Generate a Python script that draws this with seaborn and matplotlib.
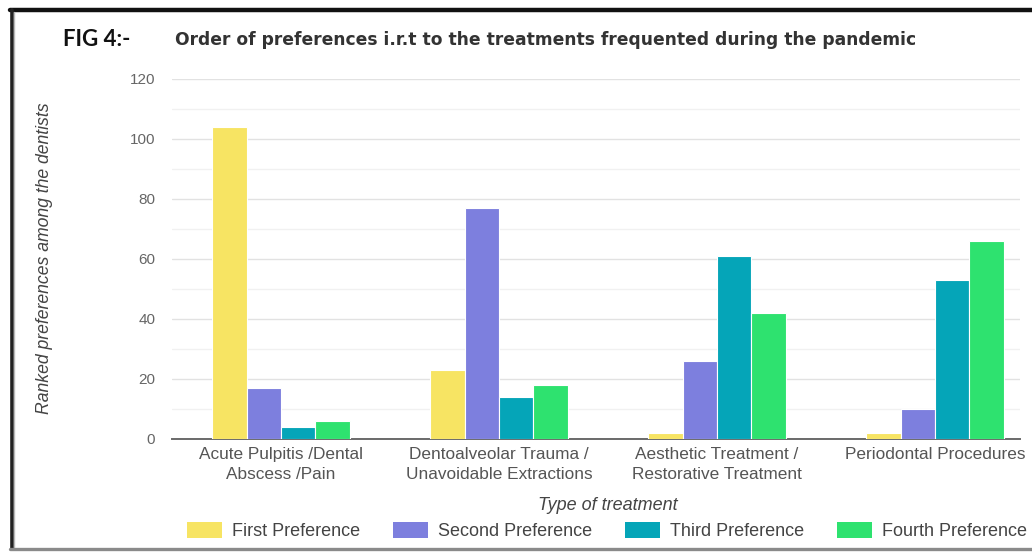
import matplotlib
matplotlib.use("Agg")
import matplotlib.pyplot as plt
import seaborn as sns
import pandas as pd
from matplotlib.lines import Line2D
from matplotlib.patches import Patch

# Treatment categories and ranked-preference counts
treatments = [
    "Acute Pulpitis /Dental\nAbscess /Pain",
    "Dentoalveolar Trauma /\nUnavoidable Extractions",
    "Aesthetic Treatment /\nRestorative Treatment",
    "Periodontal Procedures",
]
preferences = ["First Preference", "Second Preference", "Third Preference", "Fourth Preference"]
first_pref = [104, 23, 2, 2]
second_pref = [17, 77, 26, 10]
third_pref = [4, 14, 61, 53]
fourth_pref = [6, 18, 42, 66]
y_ticks = [0, 20, 40, 60, 80, 100, 120]

colors = ["#F7E463", "#7D7FDE", "#05A5B8", "#2EE26F"]

rows = []
for pref, vals in zip(preferences, [first_pref, second_pref, third_pref, fourth_pref]):
    for t, v in zip(treatments, vals):
        rows.append({"Treatment": t, "Preference": pref, "Count": v})
df = pd.DataFrame(rows)

sns.set_style("white")
plt.rcParams["font.family"] = ["Liberation Sans", "DejaVu Sans"]

fig = plt.figure(figsize=(10.32, 5.52), dpi=100)
W, H = 1032, 552

def fx(px):
    return px / W

def fy(py):
    return 1 - py / H

ax = fig.add_axes([fx(172), fy(439), fx(1020) - fx(172), fy(79) - fy(439)])

sns.barplot(
    data=df, x="Treatment", y="Count", hue="Preference",
    order=treatments, hue_order=preferences, palette=colors,
    width=0.63, edgecolor="white", linewidth=0.8, saturation=1,
    errorbar=None, ax=ax, legend=False, zorder=3,
)

ax.set_xlim(-0.5, 3.39)
ax.set_ylim(0, 120)
ax.set_yticks(y_ticks)
ax.set_yticks(range(10, 120, 20), minor=True)
ax.grid(axis="y", which="major", color="#e2e2e2", linewidth=1.0, zorder=0)
ax.grid(axis="y", which="minor", color="#f1f1f1", linewidth=1.0, zorder=0)
ax.set_axisbelow(True)
for s in ["top", "right", "left"]:
    ax.spines[s].set_visible(False)
ax.spines["bottom"].set_color("#6a6a6a")
ax.spines["bottom"].set_linewidth(1.4)
ax.tick_params(axis="y", which="both", length=0, pad=12, labelsize=11, labelcolor="#666666")
ax.tick_params(axis="x", length=0, pad=6, labelsize=12.4, labelcolor="#555555")
for lbl in ax.get_xticklabels():
    lbl.set_linespacing(1.35)
ax.set_xlabel("")
ax.set_ylabel("")

# Axis titles
fig.text(fx(45), fy(258), "Ranked preferences among the dentists", rotation=90,
         style="italic", fontsize=12.7, color="#444444", ha="center", va="center")
fig.text(fx(608), fy(506), "Type of treatment", style="italic", fontsize=13,
         color="#444444", ha="center", va="center")

# Titles
fig.text(fx(63), fy(40), "FIG 4:-", fontsize=16, fontweight="bold", color="#111111",
         ha="left", va="center", family=["Lato", "DejaVu Sans"])
fig.text(fx(175), fy(40), "Order of preferences i.r.t to the treatments frequented during the pandemic",
         fontsize=12.3, fontweight="bold", color="#333333", ha="left", va="center",
         family=["DejaVu Sans"])

# Legend
handles = [Patch(facecolor=c, edgecolor="none") for c in colors]
fig.legend(handles, preferences, loc="center", bbox_to_anchor=(fx(607), fy(531)),
           ncol=4, frameon=False, fontsize=13, handlelength=1.95, handleheight=1.05,
           handletextpad=0.55, columnspacing=1.8, labelcolor="#444444")

# Page border
fig.add_artist(Line2D([fx(10), 1], [fy(10), fy(10)], color="#111111", linewidth=3.2))
fig.add_artist(Line2D([fx(11.5), fx(11.5)], [fy(10), fy(549)], color="#222222", linewidth=2.6))
fig.add_artist(Line2D([fx(14), fx(14)], [fy(12), fy(547)], color="#bbbbbb", linewidth=1))
fig.add_artist(Line2D([fx(10), 1], [fy(548.5), fy(548.5)], color="#8a8a8a", linewidth=2.4))

fig.savefig("out.png", dpi=100, facecolor="white")
